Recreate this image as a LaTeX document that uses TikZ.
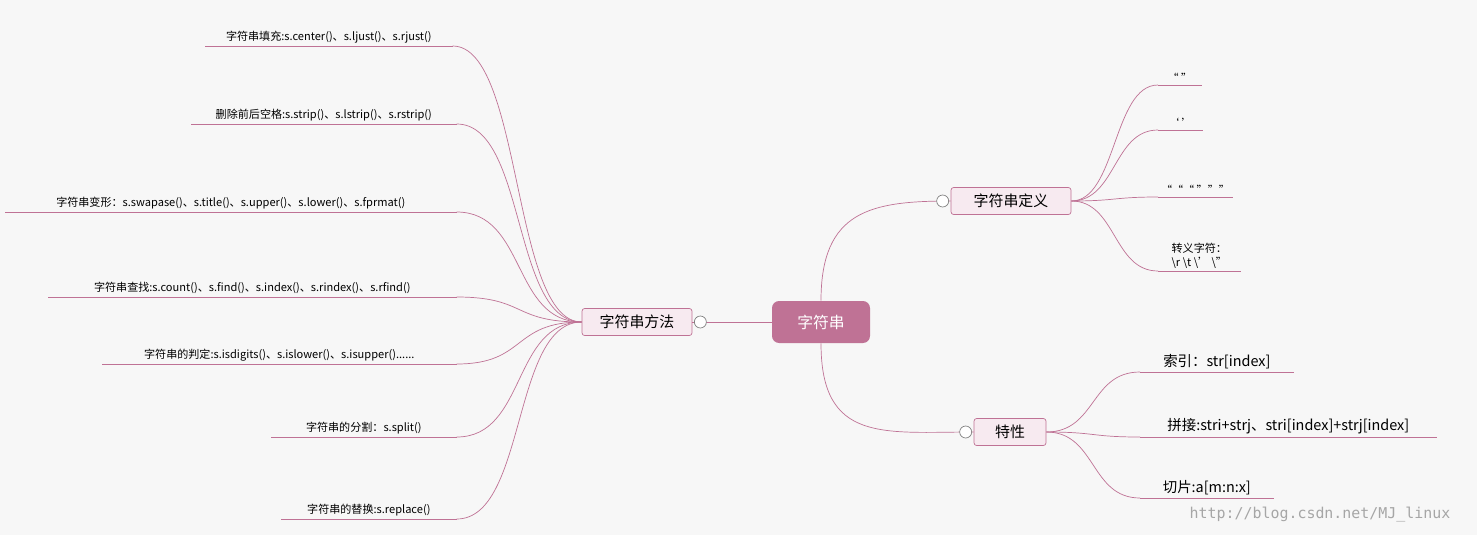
\documentclass[tikz,border=0pt]{standalone}
\usepackage{fontspec}
\setmainfont{Noto Sans CJK SC}
\newfontfamily\wmfont{DejaVu Sans Mono}
\usetikzlibrary{positioning}
\definecolor{rose}{HTML}{BF7295}
\definecolor{rosebg}{HTML}{F7EAF0}
\tikzset{
    root/.style={rectangle, rounded corners=4pt, fill=rose, text=white, minimum width=1.96cm, minimum height=0.84cm, font=\fontsize{9}{10}\selectfont},
    topic/.style={rectangle, draw=rose, rounded corners=1.5pt, fill=rosebg, minimum height=0.54cm, font=\fontsize{8.5}{10}\selectfont},
    fold/.style={circle, draw=gray, fill=white, inner sep=0pt, minimum size=0.24cm},
    leaf/.style={anchor=south west, inner sep=1.5pt, align=center, font=\fontsize{6.3}{7.5}\selectfont},
    bigleaf/.style={leaf, font=\fontsize{8.2}{9.5}\selectfont},
    branch/.style={draw=rose, thin},
}
\newcommand{\under}[1]{\draw[branch] (#1.south west) -- (#1.south east);}
\begin{document}
\begin{tikzpicture}[x=0.02cm, y=-0.02cm]
    \fill[white!97!black] (0,0) rectangle (1477,535);
    \node[root] (str) at (821,322) {字符串};
    \node[topic, minimum width=2.2cm] (methods) at (637,322) {字符串方法};
    \node[topic, minimum width=2.4cm] (define) at (1011,201) {字符串定义};
    \node[topic, minimum width=1.44cm] (feature) at (1010,432) {特性};

    % left leaves
    \node[leaf, minimum width=4.94cm] (fill) at (205,46) {字符串填充:s.center()、s.ljust()、s.rjust()};
    \node[leaf, minimum width=5.3cm] (strip) at (191,124) {删除前后空格:s.strip()、s.lstrip()、s.rstrip()};
    \node[leaf, minimum width=9.02cm] (case) at (5,212) {字符串变形：s.swapase()、s.title()、s.upper()、s.lower()、s.fprmat()};
    \node[leaf, minimum width=8.16cm] (find) at (48,297) {字符串查找:s.count()、s.find()、s.index()、s.rindex()、s.rfind()};
    \node[leaf, minimum width=7.08cm] (judge) at (102,364) {字符串的判定:s.isdigits()、s.islower()、s.isupper()......};
    \node[leaf, minimum width=3.7cm] (split) at (271,437) {字符串的分割：s.split()};
    \node[leaf, minimum width=3.5cm] (replace) at (281,519) {字符串的替换:s.replace()};

    % right leaves
    \node[leaf, minimum width=0.86cm] (dq) at (1158,85) {“ ”};
    \node[leaf, minimum width=0.88cm] (sq) at (1158,130) {‘ ’};
    \node[leaf, minimum width=0.98cm] (tq) at (1158,197) {“““ ”””};
    \node[leaf, minimum width=1.64cm, align=left] (esc) at (1158,271) {转义字符：\\ \textbackslash r \textbackslash t \textbackslash ' \textbackslash "};
    \node[bigleaf, minimum width=3.06cm] (index) at (1140,372) {索引：str[index]};
    \node[bigleaf, minimum width=5.92cm] (concat) at (1140,437) {拼接:stri+strj、stri[index]+strj[index]};
    \node[bigleaf, minimum width=2.66cm] (slice) at (1140,498) {切片:a[m:n:x]};

    \foreach \l in {fill,strip,case,find,judge,split,replace}{
        \under{\l}
        \draw[branch] (methods.west) .. controls +(-70,0) and +(70,0) .. (\l.south east);
    }
    \foreach \l in {dq,sq,tq,esc}{
        \under{\l}
        \draw[branch] (define.east) .. controls +(45,0) and +(-45,0) .. (\l.south west);
    }
    \foreach \l in {index,concat,slice}{
        \under{\l}
        \draw[branch] (feature.east) .. controls +(50,0) and +(-50,0) .. (\l.south west);
    }

    \draw[branch] (str.west) -- (methods.east);
    \draw[branch] (str.north) .. controls +(0,-90) and +(-80,0) .. (define.west);
    \draw[branch] (str.south) .. controls +(0,100) and +(-90,0) .. (feature.west);
    \node[fold] (foldm) at (methods.east) [xshift=0.16cm] {};
    \node[fold] (foldd) at (define.west) [xshift=-0.16cm] {};
    \node[fold] (foldf) at (feature.west) [xshift=-0.16cm] {};
    \node[text=gray!70, font=\wmfont\fontsize{8.5}{10}\selectfont] (mark) at (1320,515) {http://blog.csdn.net/MJ\_linux};
\end{tikzpicture}
\end{document}
